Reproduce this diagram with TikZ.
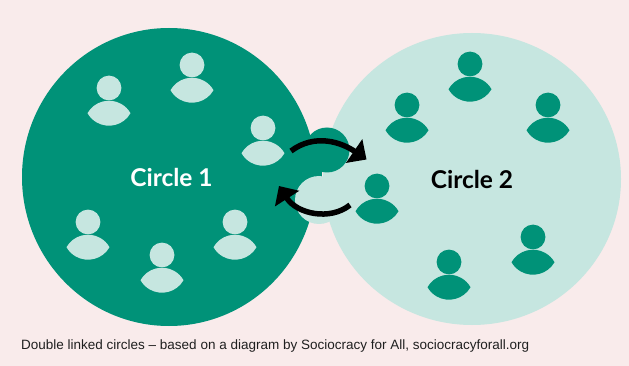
\documentclass[tikz,border=0pt]{standalone}
\usepackage{fontspec}
\setmainfont{Liberation Sans}
\newfontfamily\lblfont{Lato}
\usetikzlibrary{shapes.geometric,arrows.meta}
\definecolor{bgpink}{HTML}{F9EBEB}
\definecolor{dkgreen}{HTML}{009278}
\definecolor{ltgreen}{HTML}{C6E6E0}
\tikzset{
  bigcircle/.style={ellipse, inner sep=0pt, font=\lblfont\bfseries\fontsize{24.5}{28}\selectfont},
  swaparrow/.style={line width=5.5pt, black, -{Triangle[length=15pt,width=28pt]}},
  personshape/.pic={
    \fill (0,0) circle (12.4pt);
    \fill (-21.5,25.2) arc[start angle=-150.34, end angle=-29.66, radius=24.74]
                       arc[start angle=29.66, end angle=150.34, radius=24.74] -- cycle;
  },
  lightperson/.style={color=ltgreen},
  darkperson/.style={color=dkgreen}
}
\begin{document}
\begin{tikzpicture}[x=1pt,y=-1pt]
\fill[bgpink] (0,0) rectangle (629,366);
\useasboundingbox (0,0) rectangle (629,366);
% circles
\node[bigcircle, fill=ltgreen, text=black, minimum width=298pt, minimum height=292pt] (c2) at (472,179) {Circle 2};
\node[bigcircle, fill=dkgreen, text=white, minimum width=294pt, minimum height=298pt] (c1) at (169,177) {\hspace*{5pt}Circle 1};
% link
\fill[dkgreen] (327,150) circle (22.5pt);
\fill[dkgreen] (312,160) rectangle (322,181);
\fill[ltgreen] (319,200) circle (24pt);
% persons circle 1
\begin{scope}[lightperson]
\pic at (109,88) {personshape};
\pic at (192,65) {personshape};
\pic at (263,128) {personshape};
\pic at (88,222) {personshape};
\pic at (162,255) {personshape};
\pic at (235,222) {personshape};
\end{scope}
% persons circle 2
\begin{scope}[darkperson]
\pic at (470,64) {personshape};
\pic at (407,105) {personshape};
\pic at (548,105) {personshape};
\pic at (377,186) {personshape};
\pic at (533,237) {personshape};
\pic at (449,262) {personshape};
\end{scope}
% arrows
\coordinate (a1s) at (291,151);
\coordinate (a1e) at (366.5,159.5);
\coordinate (a2s) at (350,205);
\coordinate (a2e) at (279,186);
\draw[swaparrow] (a1s) .. controls (315,133) and (341.6,142.4) .. (a1e);
\draw[swaparrow] (a2s) .. controls (330,221) and (297,214) .. (a2e);
% caption
\node[anchor=base west, inner sep=0pt, font=\fontsize{13.5}{16}\selectfont, text=black!88] (cap) at (21,349) {Double linked circles – based on a diagram by Sociocracy for All, sociocracyforall.org};
\end{tikzpicture}
\end{document}
